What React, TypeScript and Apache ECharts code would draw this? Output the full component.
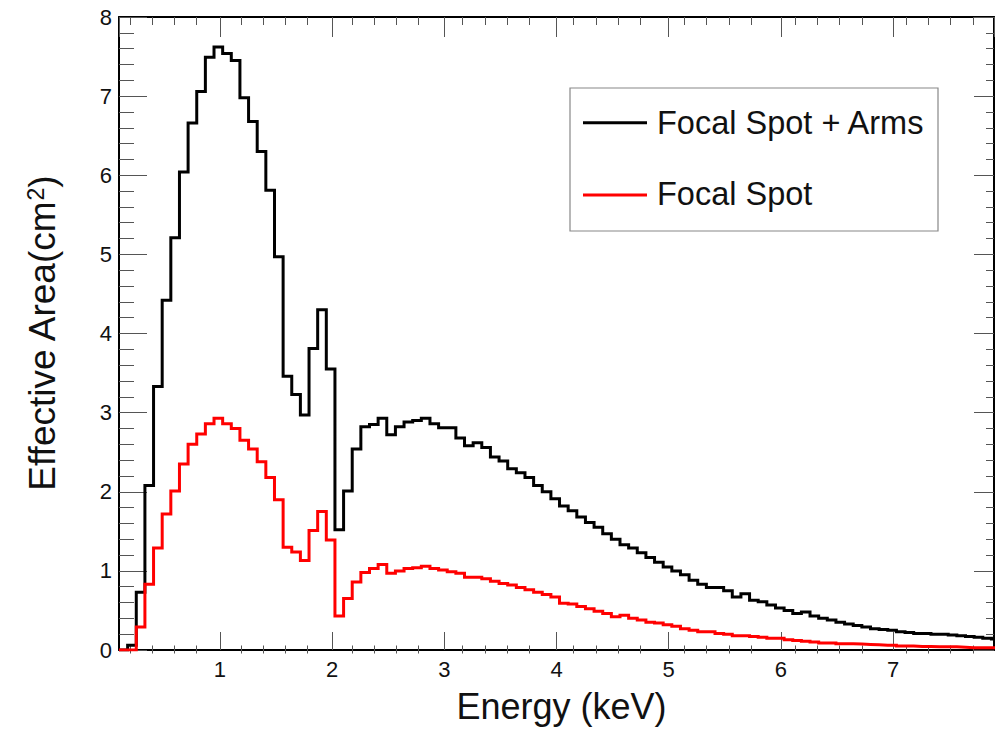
import React, { useEffect, useRef } from "react";
import * as echarts from "echarts";

// Histogram binning (keV)
const BIN_START = 0.1;
const BIN_WIDTH = 0.077;

// Effective area per bin (cm^2)
const focalSpotArms = [
  0, 0.06, 0.73, 2.08, 3.33, 4.42, 5.21, 6.04, 6.66, 7.06,
  7.49, 7.62, 7.54, 7.45, 6.98, 6.68, 6.3, 5.81, 4.97, 3.46,
  3.23, 2.97, 3.81, 4.3, 3.55, 1.52, 2.01, 2.54, 2.82, 2.85,
  2.93, 2.72, 2.82, 2.88, 2.9, 2.93, 2.86, 2.81, 2.81, 2.68,
  2.58, 2.62, 2.56, 2.44, 2.39, 2.29, 2.24, 2.18, 2.08, 2.0,
  1.91, 1.82, 1.76, 1.68, 1.61, 1.55, 1.47, 1.4, 1.33, 1.29,
  1.23, 1.17, 1.11, 1.05, 1.0, 0.95, 0.88, 0.83, 0.79, 0.79,
  0.75, 0.67, 0.71, 0.63, 0.61, 0.57, 0.53, 0.5, 0.46, 0.48,
  0.43, 0.4, 0.38, 0.35, 0.33, 0.31, 0.29, 0.27, 0.26, 0.25,
  0.23, 0.22, 0.21, 0.21, 0.2, 0.2, 0.19, 0.18, 0.17, 0.16,
  0.15, 0.14,
];

const focalSpot = [
  0, 0, 0.29, 0.83, 1.29, 1.72, 2.01, 2.35, 2.6, 2.73,
  2.86, 2.93, 2.86, 2.8, 2.65, 2.54, 2.38, 2.18, 1.9, 1.3,
  1.24, 1.13, 1.51, 1.75, 1.39, 0.43, 0.65, 0.86, 0.98, 1.03,
  1.08, 0.97, 1.0, 1.03, 1.04, 1.06, 1.03, 1.01, 0.99, 0.97,
  0.92, 0.92, 0.9, 0.87, 0.84, 0.82, 0.79, 0.76, 0.73, 0.7,
  0.67, 0.59, 0.58, 0.55, 0.52, 0.49, 0.46, 0.42, 0.44, 0.4,
  0.38, 0.35, 0.34, 0.32, 0.3, 0.27, 0.25, 0.23, 0.23, 0.21,
  0.2, 0.18, 0.18, 0.17, 0.16, 0.15, 0.15, 0.13, 0.12, 0.11,
  0.1, 0.09, 0.09, 0.08, 0.08, 0.075, 0.07, 0.065, 0.06, 0.06,
  0.05, 0.05, 0.045, 0.045, 0.04, 0.04, 0.04, 0.035, 0.03, 0.03,
  0.03, 0.03,
];

const SERIES_NAMES = ["Focal Spot + Arms", "Focal Spot"];
const X_RANGE = [0.1, 7.9];
const Y_RANGE = [0, 8];
const X_TITLE = "Energy (keV)";
const Y_TITLE = "Effective Area(cm{sup|2})";

const FONT = "'Liberation Sans', Arial, Helvetica, sans-serif";

function toSteps(values: number[]): number[][] {
  const pts = values.map((v, k) => [Number((BIN_START + k * BIN_WIDTH).toFixed(4)), v]);
  pts.push([Number((BIN_START + values.length * BIN_WIDTH).toFixed(4)), values[values.length - 1]]);
  return pts;
}

export default function App() {
  const ref = useRef<HTMLDivElement>(null);

  useEffect(() => {
    if (!ref.current) return;
    const chart = echarts.init(ref.current, null, { renderer: "svg" });

    const W = 995;
    const gridLeft = 119;
    const gridRight = 1;
    const gridTop = 17;
    const gridBottom = 75.5;
    const pxPerUnit = (W - gridLeft - gridRight) / (X_RANGE[1] - X_RANGE[0]);
    const helperLeft = gridLeft - X_RANGE[0] * pxPerUnit;
    const helperWidth = 8 * pxPerUnit;

    const frame = { color: "#000", width: 2 };
    const tick = { color: "#555", width: 1 };

    const option: any = {
      animation: false,
      backgroundColor: "#fff",
      grid: [
        { left: gridLeft, right: gridRight, top: gridTop, bottom: gridBottom },
        { left: helperLeft, width: helperWidth, top: gridTop, bottom: gridBottom },
      ],
      xAxis: [
        {
          gridIndex: 0,
          type: "value",
          position: "bottom",
          min: X_RANGE[0],
          max: X_RANGE[1],
          splitNumber: 8,
          axisLine: { show: true, onZero: false, lineStyle: frame },
          axisTick: { show: true, inside: true, length: 18, lineStyle: tick },
          minorTick: { show: false },
          splitLine: { show: false },
          axisLabel: {
            show: true,
            showMinLabel: false,
            showMaxLabel: false,
            fontSize: 22,
            color: "#111",
            fontFamily: FONT,
            margin: 8,
          },
          name: X_TITLE,
          nameLocation: "middle",
          nameGap: 38,
          nameTextStyle: { fontSize: 36, color: "#111", fontFamily: FONT, padding: [0, 0, 0, 10] },
        },
        {
          gridIndex: 0,
          type: "value",
          position: "top",
          min: X_RANGE[0],
          max: X_RANGE[1],
          splitNumber: 8,
          axisLine: { show: true, onZero: false, lineStyle: frame },
          axisTick: { show: true, inside: true, length: 20, lineStyle: tick },
          minorTick: { show: false },
          splitLine: { show: false },
          axisLabel: { show: false },
        },
        {
          gridIndex: 1,
          type: "value",
          position: "bottom",
          min: 0,
          max: 8,
          interval: 1,
          axisLine: { show: false, onZero: false },
          axisTick: { show: false, inside: true },
          minorTick: { show: true, splitNumber: 5, length: 8, lineStyle: tick },
          splitLine: { show: false },
          axisLabel: { show: false },
        },
        {
          gridIndex: 1,
          type: "value",
          position: "top",
          min: 0,
          max: 8,
          interval: 1,
          axisLine: { show: false, onZero: false },
          axisTick: { show: false, inside: true },
          minorTick: { show: true, splitNumber: 5, length: 8, lineStyle: tick },
          splitLine: { show: false },
          axisLabel: { show: false },
        },
      ],
      yAxis: [
        {
          gridIndex: 0,
          type: "value",
          position: "left",
          min: Y_RANGE[0],
          max: Y_RANGE[1],
          interval: 1,
          axisLine: { show: true, onZero: false, lineStyle: frame },
          axisTick: { show: true, inside: true, length: 28, lineStyle: tick },
          minorTick: { show: true, splitNumber: 5, length: 15, lineStyle: tick },
          splitLine: { show: false },
          axisLabel: { show: true, fontSize: 22, color: "#111", fontFamily: FONT, margin: 7 },
          name: Y_TITLE,
          nameLocation: "middle",
          nameGap: 58,
          nameRotate: 90,
          nameTextStyle: {
            fontSize: 37,
            color: "#111",
            fontFamily: FONT,
            rich: {
              sup: { fontSize: 23, color: "#111", fontFamily: FONT, verticalAlign: "top" },
            },
          },
        },
        {
          gridIndex: 0,
          type: "value",
          position: "right",
          min: Y_RANGE[0],
          max: Y_RANGE[1],
          interval: 1,
          axisLine: { show: true, onZero: false, lineStyle: frame },
          axisTick: { show: true, inside: true, length: 20, lineStyle: tick },
          minorTick: { show: true, splitNumber: 5, length: 8, lineStyle: tick },
          splitLine: { show: false },
          axisLabel: { show: false },
        },
        {
          gridIndex: 1,
          type: "value",
          show: false,
          min: Y_RANGE[0],
          max: Y_RANGE[1],
        },
      ],
      series: [
        {
          type: "line",
          name: SERIES_NAMES[0],
          xAxisIndex: 0,
          yAxisIndex: 0,
          data: toSteps(focalSpotArms),
          step: "end",
          symbol: "none",
          showSymbol: false,
          lineStyle: { color: "#000", width: 3, join: "miter" },
          itemStyle: { color: "#000" },
          z: 3,
        },
        {
          type: "line",
          name: SERIES_NAMES[1],
          xAxisIndex: 0,
          yAxisIndex: 0,
          data: toSteps(focalSpot),
          step: "end",
          symbol: "none",
          showSymbol: false,
          lineStyle: { color: "#ff0000", width: 3, join: "miter" },
          itemStyle: { color: "#ff0000" },
          z: 4,
        },
      ],
      graphic: [
        {
          type: "rect",
          shape: { x: 570, y: 88, width: 368, height: 143 },
          style: { fill: "#fff", stroke: "#888", lineWidth: 1.2 },
          z: 10,
        },
        {
          type: "line",
          shape: { x1: 583, y1: 122.7, x2: 647, y2: 122.7 },
          style: { stroke: "#000", lineWidth: 3 },
          z: 11,
        },
        {
          type: "line",
          shape: { x1: 583, y1: 195, x2: 647, y2: 195 },
          style: { stroke: "#ff0000", lineWidth: 3 },
          z: 11,
        },
        {
          type: "text",
          x: 657,
          y: 122.5,
          style: {
            text: SERIES_NAMES[0],
            fontSize: 32.5,
            fontFamily: FONT,
            fill: "#111",
            verticalAlign: "middle",
            align: "left",
          },
          z: 11,
        },
        {
          type: "text",
          x: 657,
          y: 194,
          style: {
            text: SERIES_NAMES[1],
            fontSize: 32.5,
            fontFamily: FONT,
            fill: "#111",
            verticalAlign: "middle",
            align: "left",
          },
          z: 11,
        },
      ],
    };

    chart.setOption(option);
    return () => {
      chart.dispose();
    };
  }, []);

  return (
    <div
      ref={ref}
      style={{ position: "fixed", left: 0, top: 0, width: 995, height: 729, background: "#fff" }}
    />
  );
}
